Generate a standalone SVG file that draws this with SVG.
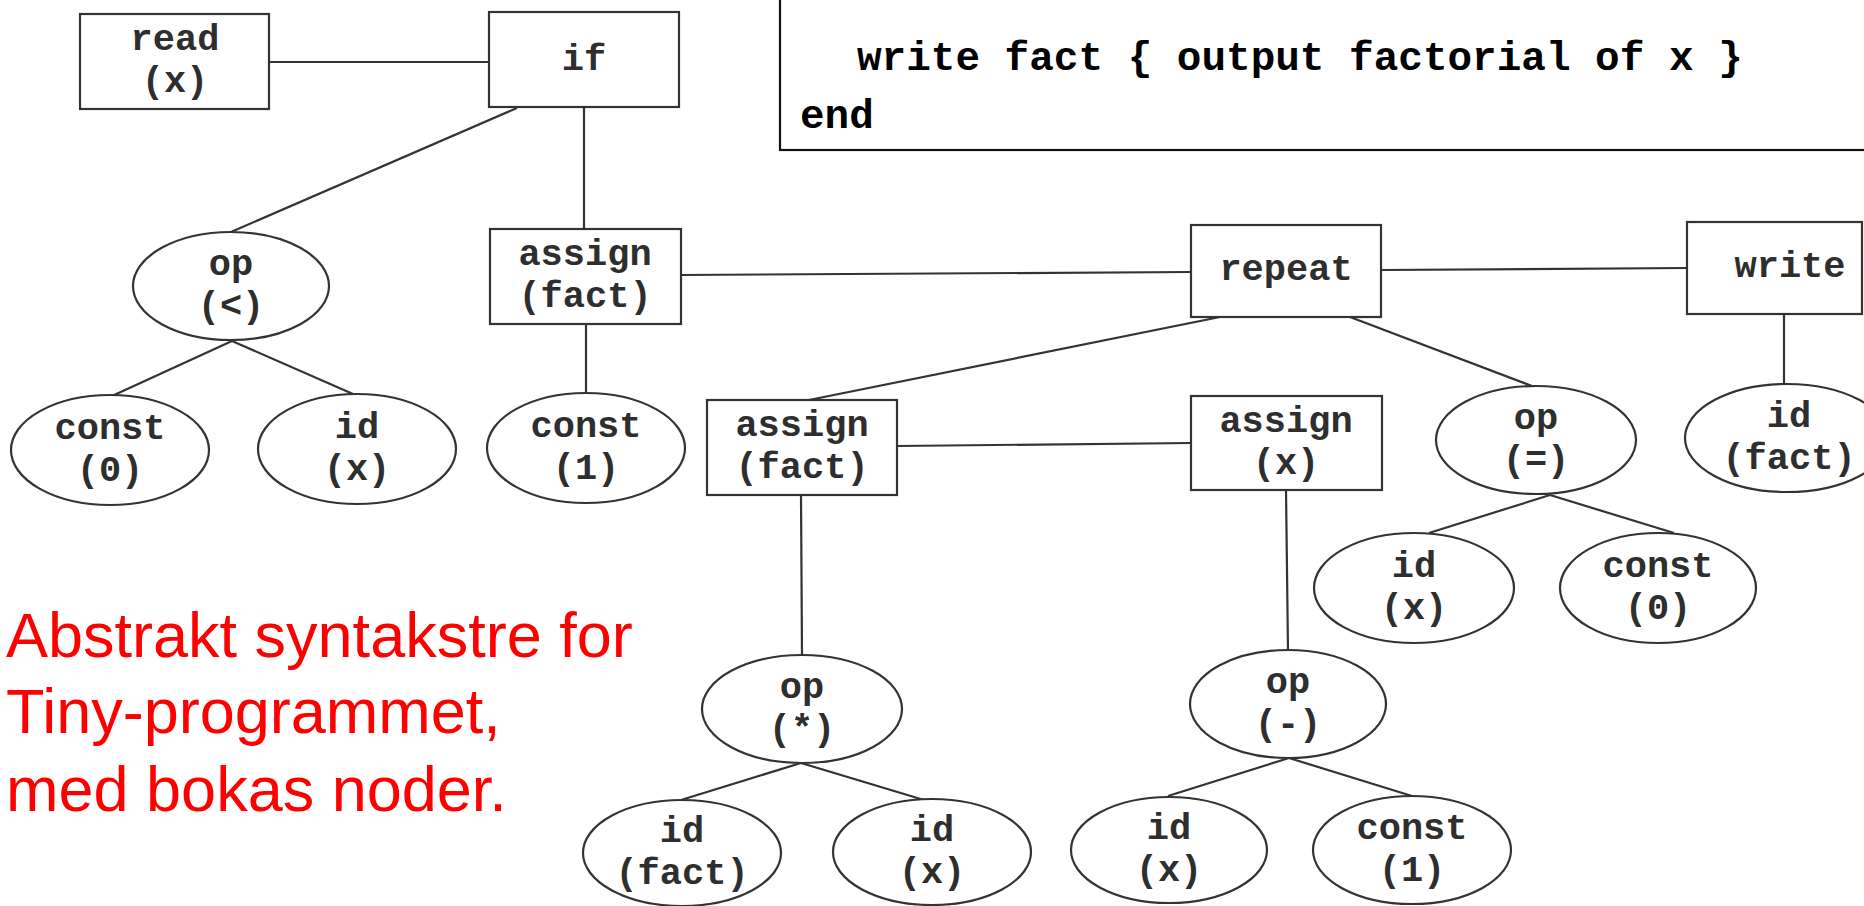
<svg xmlns="http://www.w3.org/2000/svg" width="1864" height="906" viewBox="0 0 1864 906">
<style>
.bg{fill:#fff}
.box,.ell{fill:#fff;stroke:#333;stroke-width:2.2}
.edge{stroke:#333;stroke-width:2.2;fill:none}
.t{font-family:"Liberation Mono","Courier New",monospace;font-weight:bold;font-size:37px;fill:#2e2e2e;text-anchor:middle}
.code{font-family:"Liberation Mono","Courier New",monospace;font-weight:bold;font-size:41px;fill:#000}
.red{font-family:"Liberation Sans",Arial,sans-serif;font-size:63px;fill:#ff0000}
</style>
<rect class="bg" x="0" y="0" width="1864" height="906"/>
<g id="code-box">
<rect x="780" y="-10" width="1094" height="160" fill="#fff" stroke="#111" stroke-width="2.2"/>
<text class="code" x="857" y="70">write fact { output factorial of x }</text>
<text class="code" x="800" y="128">end</text>
</g>
<g id="connectors">
<line class="edge" x1="269" y1="62" x2="489" y2="62"/>
<line class="edge" x1="517" y1="108" x2="231" y2="232"/>
<line class="edge" x1="584" y1="107" x2="584" y2="229"/>
<line class="edge" x1="232" y1="341" x2="112" y2="396"/>
<line class="edge" x1="232" y1="341" x2="353" y2="394"/>
<line class="edge" x1="586" y1="324" x2="586" y2="393"/>
<line class="edge" x1="681" y1="275" x2="1191" y2="272"/>
<line class="edge" x1="1381" y1="270" x2="1687" y2="268"/>
<line class="edge" x1="1220" y1="317" x2="809" y2="400"/>
<line class="edge" x1="1350" y1="317" x2="1532" y2="386"/>
<line class="edge" x1="1784" y1="314" x2="1784" y2="384"/>
<line class="edge" x1="897" y1="446" x2="1191" y2="443"/>
<line class="edge" x1="801" y1="495" x2="802" y2="655"/>
<line class="edge" x1="1286" y1="490" x2="1288" y2="650"/>
<line class="edge" x1="1550" y1="495" x2="1429" y2="533"/>
<line class="edge" x1="1550" y1="495" x2="1674" y2="533"/>
<line class="edge" x1="801" y1="763" x2="681" y2="800"/>
<line class="edge" x1="801" y1="763" x2="924" y2="800"/>
<line class="edge" x1="1289" y1="758" x2="1168" y2="796"/>
<line class="edge" x1="1289" y1="758" x2="1412" y2="796"/>
</g>
<g id="read">
<rect class="box" x="80" y="14" width="189" height="95"/>
<text class="t" x="175" y="50">read</text>
<text class="t" x="175" y="92">(x)</text>
</g>
<g id="if">
<rect class="box" x="489" y="12" width="190" height="95"/>
<text class="t" x="584" y="70">if</text>
</g>
<g id="op-lt">
<ellipse class="ell" cx="231" cy="286" rx="98" ry="54"/>
<text class="t" x="231" y="275">op</text>
<text class="t" x="231" y="317">(&lt;)</text>
</g>
<g id="assign-fact-1">
<rect class="box" x="490" y="229" width="191" height="95"/>
<text class="t" x="585" y="265">assign</text>
<text class="t" x="585" y="307">(fact)</text>
</g>
<g id="const-0-a">
<ellipse class="ell" cx="110" cy="450" rx="99" ry="55"/>
<text class="t" x="110" y="439">const</text>
<text class="t" x="110" y="481">(0)</text>
</g>
<g id="id-x-a">
<ellipse class="ell" cx="357" cy="449" rx="99" ry="55"/>
<text class="t" x="357" y="438">id</text>
<text class="t" x="357" y="480">(x)</text>
</g>
<g id="const-1-a">
<ellipse class="ell" cx="586" cy="448" rx="99" ry="55"/>
<text class="t" x="586" y="437">const</text>
<text class="t" x="586" y="479">(1)</text>
</g>
<g id="repeat">
<rect class="box" x="1191" y="225" width="190" height="92"/>
<text class="t" x="1286" y="280">repeat</text>
</g>
<g id="write">
<rect class="box" x="1687" y="222" width="175" height="92"/>
<text class="t" x="1790" y="277">write</text>
</g>
<g id="assign-fact-2">
<rect class="box" x="707" y="400" width="190" height="95"/>
<text class="t" x="802" y="436">assign</text>
<text class="t" x="802" y="478">(fact)</text>
</g>
<g id="assign-x">
<rect class="box" x="1191" y="396" width="191" height="94"/>
<text class="t" x="1286" y="432">assign</text>
<text class="t" x="1286" y="474">(x)</text>
</g>
<g id="op-eq">
<ellipse class="ell" cx="1536" cy="440" rx="100" ry="54"/>
<text class="t" x="1536" y="429">op</text>
<text class="t" x="1536" y="471">(=)</text>
</g>
<g id="id-fact-a">
<ellipse class="ell" cx="1787" cy="438" rx="102" ry="54"/>
<text class="t" x="1789" y="427">id</text>
<text class="t" x="1789" y="469">(fact)</text>
</g>
<g id="id-x-b">
<ellipse class="ell" cx="1414" cy="588" rx="100" ry="55"/>
<text class="t" x="1414" y="577">id</text>
<text class="t" x="1414" y="619">(x)</text>
</g>
<g id="const-0-b">
<ellipse class="ell" cx="1658" cy="588" rx="98" ry="55"/>
<text class="t" x="1658" y="577">const</text>
<text class="t" x="1658" y="619">(0)</text>
</g>
<g id="op-mul">
<ellipse class="ell" cx="802" cy="709" rx="100" ry="54"/>
<text class="t" x="802" y="698">op</text>
<text class="t" x="802" y="740">(*)</text>
</g>
<g id="op-sub">
<ellipse class="ell" cx="1288" cy="704" rx="98" ry="54"/>
<text class="t" x="1288" y="693">op</text>
<text class="t" x="1288" y="735">(-)</text>
</g>
<g id="id-fact-b">
<ellipse class="ell" cx="682" cy="853" rx="99" ry="53"/>
<text class="t" x="682" y="842">id</text>
<text class="t" x="682" y="884">(fact)</text>
</g>
<g id="id-x-c">
<ellipse class="ell" cx="932" cy="852" rx="99" ry="53"/>
<text class="t" x="932" y="841">id</text>
<text class="t" x="932" y="883">(x)</text>
</g>
<g id="id-x-d">
<ellipse class="ell" cx="1169" cy="850" rx="98" ry="53"/>
<text class="t" x="1169" y="839">id</text>
<text class="t" x="1169" y="881">(x)</text>
</g>
<g id="const-1-b">
<ellipse class="ell" cx="1412" cy="850" rx="99" ry="54"/>
<text class="t" x="1412" y="839">const</text>
<text class="t" x="1412" y="881">(1)</text>
</g>
<g id="caption">
<text class="red" x="6" y="657">Abstrakt syntakstre for</text>
<text class="red" x="6" y="733">Tiny-programmet,</text>
<text class="red" x="6" y="811">med bokas noder.</text>
</g>
</svg>
